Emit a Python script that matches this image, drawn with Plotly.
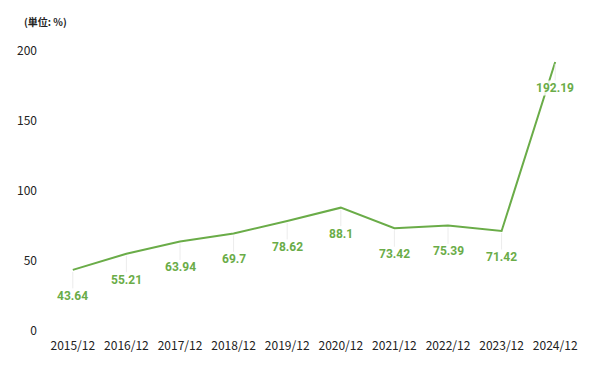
import plotly.graph_objects as go

categories = ["2015/12", "2016/12", "2017/12", "2018/12", "2019/12",
              "2020/12", "2021/12", "2022/12", "2023/12", "2024/12"]
values = [43.64, 55.21, 63.94, 69.7, 78.62, 88.1, 73.42, 75.39, 71.42, 192.19]
label_texts = ["43.64", "55.21", "63.94", "69.7", "78.62", "88.1",
               "73.42", "75.39", "71.42", "192.19"]
y_ticks = [0, 50, 100, 150, 200]
unit_label = "(単位: %)"

GREEN = "#6aac48"

fig = go.Figure()
fig.add_trace(go.Scatter(
    x=categories, y=values, mode="lines",
    line=dict(color=GREEN, width=2),
    hoverinfo="skip", cliponaxis=False,
))

for c, v, t in zip(categories, values, label_texts):
    fig.add_annotation(
        x=c, y=v, text="<b>%s</b>" % t,
        showarrow=True, arrowhead=0, arrowwidth=1, arrowcolor="#ececec",
        ax=0, ay=26, standoff=2, bgcolor="rgba(255,255,255,0.85)", borderpad=0,
        font=dict(family="Roboto", size=12, color=GREEN),
    )

fig.add_annotation(
    xref="paper", yref="paper", x=-0.045, y=1.107, xanchor="left", yanchor="middle",
    text="<b>%s</b>" % unit_label, showarrow=False,
    font=dict(family="Noto Sans CJK JP", size=10, color="#222222"),
)

fig.update_layout(
    width=600, height=371,
    margin=dict(l=38, r=26, t=43, b=48),
    paper_bgcolor="white", plot_bgcolor="white",
    showlegend=False,
    xaxis=dict(
        type="category", showgrid=False, zeroline=False, showline=False,
        automargin=False, ticks="", ticklabelstandoff=6,
        tickfont=dict(family="Noto Sans CJK JP", size=12, color="#222222"),
        range=[-0.5, len(categories) - 0.5],
    ),
    yaxis=dict(
        range=[0, 200], tickvals=y_ticks, showgrid=False, zeroline=False,
        automargin=False, showline=False, ticks="", ticklabelstandoff=8,
        tickfont=dict(family="Noto Sans CJK JP", size=12, color="#222222"),
    ),
)

fig.write_html("out.html")
